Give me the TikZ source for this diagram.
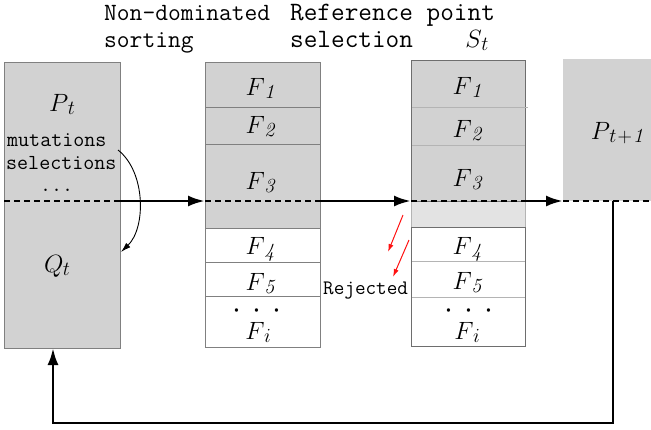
\documentclass[tikz,border=0pt]{standalone}
\usepackage{fix-cm}
\usepackage{fontspec}
\usepackage{xcolor,tikz,amsmath}
\usetikzlibrary{positioning,calc,arrows.meta}
\definecolor{popFill}{HTML}{D2D2D2}
\definecolor{popLightFill}{HTML}{E3E3E3}
\definecolor{popLine}{HTML}{808080}
\definecolor{popDarkLine}{HTML}{6E6E6E}
\definecolor{popSoftLine}{HTML}{B4B4B4}
\definecolor{rejectRed}{HTML}{FF1010}
\newcommand{\frontdots}{$\cdot$\hspace{11pt}$\cdot$\hspace{11pt}$\cdot$}
\newcommand{\bigsub}[2]{$#1$\kern-0.5pt\raisebox{-3pt}{\fontsize{20}{20}\selectfont$#2$}}
\tikzset{
  pop cell/.style={
    rectangle, anchor=north west,
    inner sep=0pt, outer sep=0pt,
    line width=0.8pt,
  },
  grey cell/.style={pop cell, fill=popFill, draw=popLine},
  white cell/.style={pop cell, fill=white, draw=popLine},
  math label/.style={inner sep=0pt, font=\fontsize{25}{28}\selectfont},
  dots label/.style={inner sep=0pt, font=\fontsize{32}{32}\selectfont},
  title text/.style={inner sep=0pt, anchor=base west, align=left},
  flow/.style={line width=2.8pt, -{Latex[length=17pt,width=11pt]}},
  cut line/.style={line width=1.2pt, dash pattern=on 6pt off 4pt},
  reject arrow/.style={draw=rejectRed, line width=1pt, -{Latex[length=8pt,width=5pt]}},
}

\begin{document}
\begin{tikzpicture}[x=1pt, y=-1pt]
\useasboundingbox (0,0) rectangle (651,429);

%% titles
\node[title text, font=\ttfamily\fontsize{24.8}{27}\selectfont] (sorttitle) at (104,47) {Non-dominated\\sorting};
\node[title text, font=\ttfamily\fontsize{26.5}{27}\selectfont] (reftitle) at (290,47) {Reference point\\selection};
\node[math label] (sttitle) at (477,40) {\bigsub{S}{t}};

%% parent + offspring population
\node[grey cell, minimum width=116pt, minimum height=286pt] (popbox) at (4,62) {};
\node[math label] (ptlabel) at (62,104) {\bigsub{P}{t}};
\node[title text, font=\ttfamily\fontsize{21.4}{22}\selectfont] (mutlabel) at (7,146) {mutations};
\node[title text, font=\ttfamily\fontsize{21.4}{22}\selectfont] (sellabel) at (6,169) {selections};
\node[title text, font=\ttfamily\fontsize{21.4}{22}\selectfont] (dotlabel) at (40,191) {...};
\node[math label] (qtlabel) at (57,266) {\bigsub{Q}{t}};

%% fronts after sorting
\node[grey cell, minimum width=115pt, minimum height=45pt] (mf1) at (205,62) {};
\node[grey cell, minimum width=115pt, minimum height=37pt] (mf2) at (205,107) {};
\node[grey cell, minimum width=115pt, minimum height=84pt] (mf3) at (205,144) {};
\node[white cell, minimum width=115pt, minimum height=34pt] (mf4) at (205,228) {};
\node[white cell, minimum width=115pt, minimum height=34pt] (mf5) at (205,262) {};
\node[white cell, minimum width=115pt, minimum height=51pt] (mfi) at (205,296) {};
\node[math label] at (260,88) {\bigsub{F}{\mathit{1}}};
\node[math label] at (260,127) {\bigsub{F}{\mathit{2}}};
\node[math label] at (260,183) {\bigsub{F}{\mathit{3}}};
\node[math label] at (260,249) {\bigsub{F}{\mathit{4}}};
\node[math label] at (260,284) {\bigsub{F}{\mathit{5}}};
\node[dots label] at (257,311) {\frontdots};
\node[math label] at (258,332) {\bigsub{F}{i}};

%% selected set S_t
\node[pop cell, fill=popFill, draw=popSoftLine, minimum width=114pt, minimum height=47pt] (sf1) at (411,60) {};
\node[pop cell, fill=popFill, draw=popSoftLine, minimum width=114pt, minimum height=38pt] (sf2) at (411,107) {};
\node[pop cell, fill=popFill, draw=popSoftLine, minimum width=114pt, minimum height=56pt] (sf3) at (411,145) {};
\node[pop cell, fill=popLightFill, draw=popSoftLine, minimum width=114pt, minimum height=26pt] (sgap) at (411,201) {};
\node[pop cell, fill=white, draw=popSoftLine, minimum width=114pt, minimum height=34pt] (sf4) at (411,227) {};
\node[pop cell, fill=white, draw=popSoftLine, minimum width=114pt, minimum height=36pt] (sf5) at (411,261) {};
\node[pop cell, fill=white, draw=popSoftLine, minimum width=114pt, minimum height=49pt] (sfi) at (411,297) {};
\draw[popDarkLine, line width=0.8pt] (sf1.north west) rectangle (sf3.south east);
\draw[popDarkLine, line width=0.8pt] (sf4.north west) rectangle (sfi.south east);
\draw[popSoftLine, line width=0.8pt] (sf1.south east) -- ++(3,0);
\node[math label] at (467,87) {\bigsub{F}{\mathit{1}}};
\node[math label] at (467,131) {\bigsub{F}{\mathit{2}}};
\node[math label] at (467,180) {\bigsub{F}{\mathit{3}}};
\node[math label] at (467,249) {\bigsub{F}{\mathit{4}}};
\node[math label] at (467,283) {\bigsub{F}{\mathit{5}}};
\node[dots label] at (469,311) {\frontdots};
\node[math label] at (467,332) {\bigsub{F}{i}};

%% next population
\node[pop cell, fill=popFill, minimum width=88pt, minimum height=142pt] (pnext) at (563,59) {};
\node[math label] (pnextlabel) at (617,133) {\bigsub{P}{t\!+\!\mathit{1}}};

%% dashed cut through all sets
\coordinate (cut) at (0,201);
\draw[cut line] (popbox.west |- cut) -- (popbox.east |- cut);
\draw[cut line] (mf3.west |- cut) -- (mf3.east |- cut);
\draw[cut line] (sf3.south west) -- (sf3.south east);
\draw[cut line] (pnext.south west) -- (pnext.south east);

%% main flow
\draw[flow] (popbox.east |- cut) -- (mf3.west |- cut);
\draw[flow] (mf3.east |- cut) -- (sf3.south west);
\draw[flow] (sf3.south east) -- (pnext.south west);

%% feedback loop
\coordinate (loopstart) at (613,201);
\coordinate (loopcorner) at (53,423);
\draw[flow] (loopstart) |- (loopcorner) -- (loopcorner |- popbox.south);

%% variation arrow
\draw[line width=0.9pt, -{Latex[length=10pt,width=6pt]}]
  (118,150) .. controls (146,172) and (146,228) .. (121,252);

%% rejected fronts
\coordinate (rej1a) at (403,215);
\coordinate (rej1b) at (388,252);
\coordinate (rej2a) at (409,240);
\coordinate (rej2b) at (393,277);
\draw[reject arrow] (rej1a) -- (rej1b);
\draw[reject arrow] (rej2a) -- (rej2b);
\node[title text, font=\ttfamily\fontsize{20.6}{22}\selectfont] (rejlabel) at (323,294) {Rejected};

\end{tikzpicture}
\end{document}
